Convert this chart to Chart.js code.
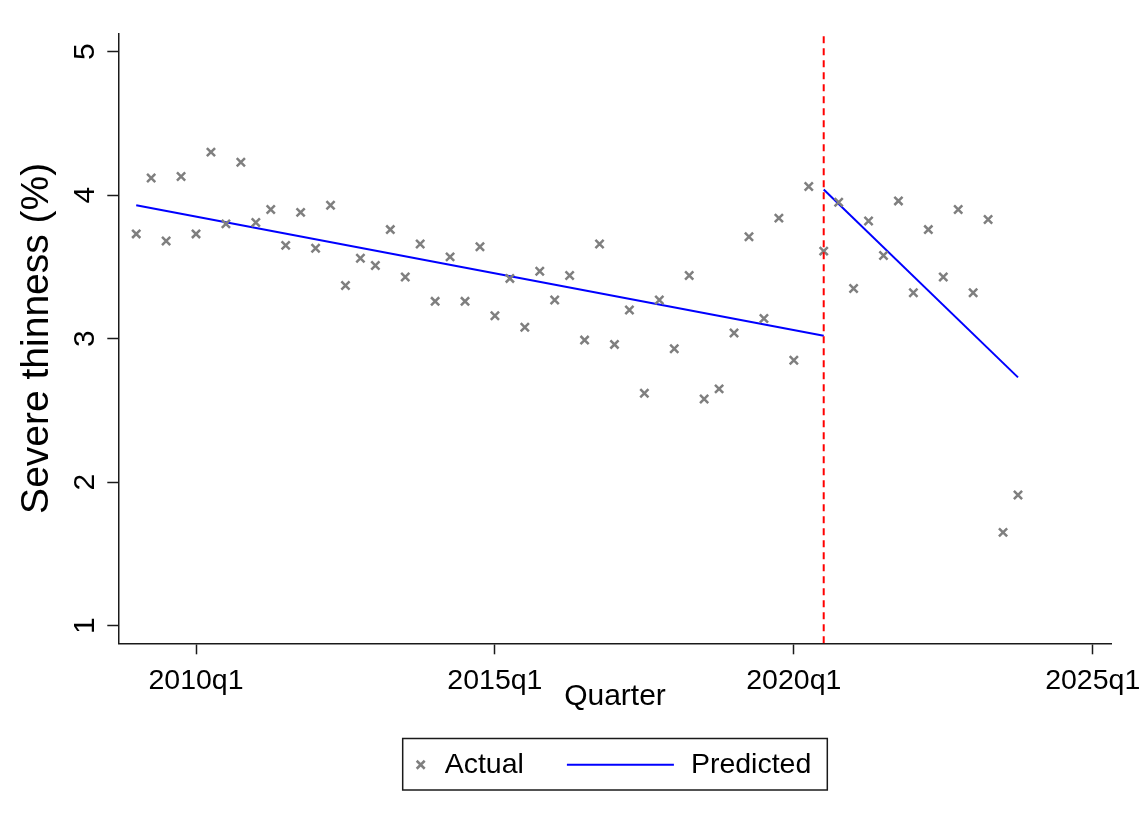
<!DOCTYPE html>
<html>
<head>
<meta charset="utf-8">
<script src="https://cdn.jsdelivr.net/npm/chart.js@4.4.1/dist/chart.umd.min.js"></script>
<style>
  html, body { margin: 0; padding: 0; background: #fff; }
</style>
</head>
<body>
<canvas id="thinness-chart" width="1143" height="826"></canvas>
<script>
const quarters = [
  '2009q1', '2009q2', '2009q3', '2009q4',
  '2010q1', '2010q2', '2010q3', '2010q4',
  '2011q1', '2011q2', '2011q3', '2011q4',
  '2012q1', '2012q2', '2012q3', '2012q4',
  '2013q1', '2013q2', '2013q3', '2013q4',
  '2014q1', '2014q2', '2014q3', '2014q4',
  '2015q1', '2015q2', '2015q3', '2015q4',
  '2016q1', '2016q2', '2016q3', '2016q4',
  '2017q1', '2017q2', '2017q3', '2017q4',
  '2018q1', '2018q2', '2018q3', '2018q4',
  '2019q1', '2019q2', '2019q3', '2019q4',
  '2020q1', '2020q2', '2020q3', '2020q4',
  '2021q1', '2021q2', '2021q3', '2021q4',
  '2022q1', '2022q2', '2022q3', '2022q4',
  '2023q1', '2023q2', '2023q3', '2023q4'
]
const actual = [
  3.73, 4.12, 3.68, 4.13,
  3.73, 4.30, 3.80, 4.23,
  3.81, 3.90, 3.65, 3.88,
  3.63, 3.93, 3.37, 3.56,
  3.51, 3.76, 3.43, 3.66,
  3.26, 3.57, 3.26, 3.64,
  3.16, 3.42, 3.08, 3.47,
  3.27, 3.44, 2.99, 3.66,
  2.96, 3.20, 2.62, 3.27,
  2.93, 3.44, 2.58, 2.65,
  3.04, 3.71, 3.14, 3.84,
  2.85, 4.06, 3.61, 3.95,
  3.35, 3.82, 3.58, 3.96,
  3.32, 3.76, 3.43, 3.90,
  3.32, 3.83, 1.65, 1.91
]

// predicted trend, before and after the break
const predQuarters1 = ['2009q1', '2020q3']
const predicted1 = [3.93, 3.02]
const predQuarters2 = ['2020q3', '2023q4']
const predicted2 = [4.04, 2.73]

const breakQuarter = '2020q3'
const xTickQuarters = ['2010q1', '2015q1', '2020q1', '2025q1']
const yTicks = [1, 2, 3, 4, 5]
const yAxisMin = 0.877
const yAxisMax = 5.128
const xAxisMin = -5.2
const xAxisMax = 61.27

const fontFamily = '"Liberation Sans", Arial, sans-serif'

function qIndex(q) {
  const [y, n] = q.split('q').map(Number)
  return (y - 2010) * 4 + n - 1
}

function toPoints(qs, vals) {
  return qs.map((q, i) => ({ x: qIndex(q), y: vals[i] }))
}

// Stata style boxed legend under the plot
const boxLegend = {
  id: 'boxLegend',
  afterDraw(chart) {
    const ctx = chart.ctx
    const area = chart.chartArea
    const sets = chart.data.datasets.filter(d => d.inLegend)
    const actualSet = sets[0]
    const predSet = sets[1]

    ctx.save()
    ctx.font = '28.5px ' + fontFamily
    const w1 = ctx.measureText(actualSet.label).width
    const w2 = ctx.measureText(predSet.label).width
    const total = 18 + 24 + w1 + 43 + 107 + 17 + w2 + 16
    const left = (area.left + area.right) / 2 - total / 2
    const top = 738.5
    const h = 51.5
    const cy = top + h / 2 + 0.5

    ctx.strokeStyle = '#1a1a1a'
    ctx.lineWidth = 1.5
    ctx.strokeRect(left, top, total, h)

    let x = left + 18
    ctx.strokeStyle = actualSet.borderColor
    ctx.lineWidth = 2.5
    ctx.beginPath()
    const r = 4
    ctx.moveTo(x - r, cy - r); ctx.lineTo(x + r, cy + r)
    ctx.moveTo(x - r, cy + r); ctx.lineTo(x + r, cy - r)
    ctx.stroke()

    x += 24
    ctx.fillStyle = '#000'
    ctx.textBaseline = 'middle'
    ctx.textAlign = 'left'
    ctx.fillText(actualSet.label, x, cy)

    x += w1 + 43
    ctx.strokeStyle = predSet.borderColor
    ctx.lineWidth = 2
    ctx.beginPath()
    ctx.moveTo(x, cy)
    ctx.lineTo(x + 107, cy)
    ctx.stroke()

    x += 107 + 17
    ctx.fillText(predSet.label, x, cy)
    ctx.restore()
  }
}

const ctx = document.getElementById('thinness-chart')

new Chart(ctx, {
  type: 'scatter',
  data: {
    datasets: [
      {
        label: 'Break',
        data: [{ x: qIndex(breakQuarter), y: yAxisMin }, { x: qIndex(breakQuarter), y: yAxisMax }],
        showLine: true,
        borderColor: '#ff0000',
        borderWidth: 2,
        borderDash: [7, 5],
        pointRadius: 0
      },
      {
        label: 'Actual',
        inLegend: true,
        data: toPoints(quarters, actual),
        pointStyle: 'crossRot',
        pointRadius: 5.8,
        pointBorderWidth: 2.5,
        borderColor: '#7f7f7f',
        backgroundColor: '#7f7f7f',
        showLine: false
      },
      {
        label: 'Predicted',
        inLegend: true,
        data: toPoints(predQuarters1, predicted1),
        showLine: true,
        borderColor: '#0000ff',
        borderWidth: 2,
        pointRadius: 0
      },
      {
        label: 'Predicted after',
        data: toPoints(predQuarters2, predicted2),
        showLine: true,
        borderColor: '#0000ff',
        borderWidth: 2,
        pointRadius: 0
      }
    ]
  },
  options: {
    responsive: false,
    animation: false,
    devicePixelRatio: 1,
    layout: {
      padding: { left: 0, top: 33.3, right: 31.3, bottom: 111 }
    },
    plugins: {
      legend: { display: false },
      tooltip: { enabled: false }
    },
    scales: {
      x: {
        type: 'linear',
        min: xAxisMin,
        max: xAxisMax,
        afterBuildTicks: scale => {
          scale.ticks = xTickQuarters.map(q => ({ value: qIndex(q) }))
        },
        afterFit: scale => {
          scale.height = 71.7
          scale.paddingLeft = 0
          scale.paddingRight = 0
        },
        border: { display: true, color: '#1a1a1a', width: 1.5 },
        grid: {
          drawOnChartArea: false,
          drawTicks: true,
          tickLength: 11,
          tickColor: '#1a1a1a',
          tickWidth: 1.5
        },
        ticks: {
          color: '#000',
          padding: 10,
          maxRotation: 0,
          font: { size: 28.5, family: fontFamily },
          callback: value => {
            const q = xTickQuarters.find(t => qIndex(t) === value)
            return q || ''
          }
        },
        title: {
          display: true,
          text: 'Quarter',
          color: '#000',
          padding: 0,
          font: { size: 30, family: fontFamily }
        }
      },
      y: {
        min: yAxisMin,
        max: yAxisMax,
        afterBuildTicks: scale => {
          scale.ticks = yTicks.map(v => ({ value: v }))
        },
        afterFit: scale => {
          scale.width = 118.3
          scale.paddingTop = 0
          scale.paddingBottom = 0
        },
        border: { display: true, color: '#1a1a1a', width: 1.5 },
        grid: {
          drawOnChartArea: false,
          drawTicks: true,
          tickLength: 11,
          tickColor: '#1a1a1a',
          tickWidth: 1.5
        },
        ticks: {
          color: '#000',
          minRotation: 90,
          maxRotation: 90,
          crossAlign: 'center',
          padding: 13,
          font: { size: 30, family: fontFamily }
        },
        title: {
          display: true,
          text: 'Severe thinness (%)',
          color: '#000',
          padding: { top: 14, bottom: 0 },
          font: { size: 39, family: fontFamily }
        }
      }
    }
  },
  plugins: [boxLegend]
})
</script>
</body>
</html>
